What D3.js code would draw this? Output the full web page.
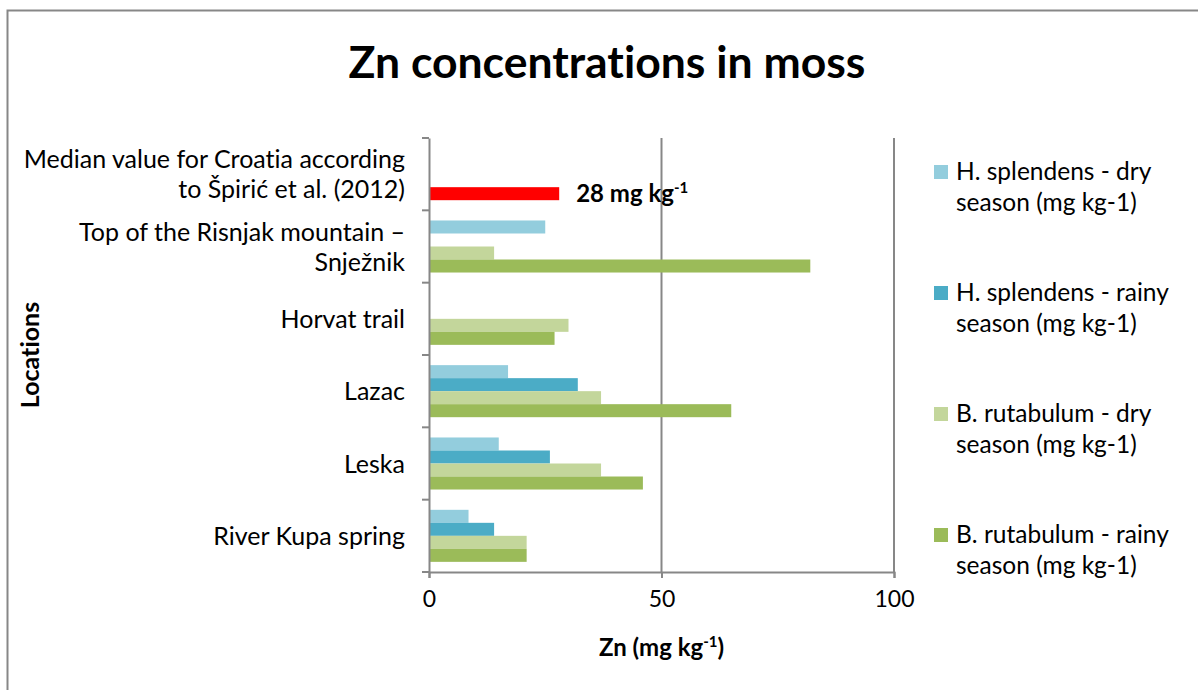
<!DOCTYPE html>
<html>
<head>
<meta charset="utf-8">
<script src="https://cdn.jsdelivr.net/npm/d3@7"></script>
<style>
  body { margin: 0; background: #fff; }
  text { font-family: Lato, "Open Sans", sans-serif; fill: #000; font-variant-ligatures: none; }
</style>
</head>
<body>
<div id="chart"></div>
<script>
// locations, top to bottom
var locations = [
    ["Median value for Croatia according", "to Špirić et al. (2012)"],
    ["Top of the Risnjak mountain –", "Snježnik"],
    ["Horvat trail"],
    ["Lazac"],
    ["Leska"],
    ["River Kupa spring"]
];
var seriesNames = [
    ["H. splendens - dry", "season (mg kg-1)"],
    ["H. splendens - rainy", "season (mg kg-1)"],
    ["B. rutabulum - dry", "season (mg kg-1)"],
    ["B. rutabulum - rainy", "season (mg kg-1)"]
];
var seriesColors = ["#93cddd", "#4bacc6", "#c3d69b", "#9bbb59"];
var hsDry   = [null, 25, null, 17, 15, 8.5];
var hsRainy = [null, null, null, 32, 26, 14];
var brDry   = [null, 14, 30, 37, 37, 21];
var brRainy = [28, 82, 27, 65, 46, 21];   // first one is the Croatia median, shown in red
var xTicks = [0, 50, 100];

var width = 1198, height = 690;
var margin = { top: 138, left: 429, right: 304, bottom: 118 };
var series = [hsDry, hsRainy, brDry, brRainy];

var svg = d3.select("#chart").append("svg")
    .attr("width", width)
    .attr("height", height);

// chart border (only top and left fall inside the picture)
svg.append("rect")
    .attr("x", 7.5).attr("y", 10.5)
    .attr("width", 1300).attr("height", 800)
    .attr("fill", "none")
    .attr("stroke", "#878787")
    .attr("stroke-width", 2);

var x = d3.scaleLinear()
    .domain([0, 100])
    .range([margin.left, width - margin.right]);

var y = d3.scaleBand()
    .domain(d3.range(locations.length))
    .range([margin.top, height - margin.bottom]);

var ySub = d3.scaleBand()
    .domain(d3.range(series.length))
    .range([0, y.bandwidth()])
    .paddingOuter(0.78);

// gridlines
svg.selectAll(".grid")
    .data(xTicks.slice(1))
    .enter().append("line")
    .attr("x1", d => x(d)).attr("x2", d => x(d))
    .attr("y1", margin.top).attr("y2", height - margin.bottom)
    .attr("stroke", "#878787")
    .attr("stroke-width", 2);

// bars
series.forEach(function (vals, s) {
    svg.selectAll(".bar" + s)
        .data(vals.map((v, i) => ({ v: v, i: i })).filter(d => d.v !== null))
        .enter().append("rect")
        .attr("x", x(0))
        .attr("y", d => y(d.i) + ySub(s))
        .attr("width", d => x(d.v) - x(0))
        .attr("height", ySub.bandwidth())
        .attr("fill", d => (s === 3 && d.i === 0) ? "#ff0000" : seriesColors[s]);
});

// median label
var lab = svg.append("text")
    .attr("x", x(brRainy[0]) + 17)
    .attr("y", y(0) + ySub(3) + ySub.bandwidth() / 2 + 8)
    .attr("font-size", 24)
    .attr("font-weight", "bold");
lab.append("tspan").text(brRainy[0] + " mg kg");
lab.append("tspan").attr("font-size", 15).attr("dy", -9).text("-1");

// x axis
var xAxis = svg.append("g")
    .attr("transform", "translate(0," + (height - margin.bottom) + ")")
    .call(d3.axisBottom(x).tickValues(xTicks).tickSize(6).tickPadding(13));
xAxis.selectAll("text").attr("font-size", 23).style("font-family", "Lato, sans-serif");

// y axis
var yAxis = svg.append("g")
    .attr("transform", "translate(" + margin.left + ",0)")
    .call(d3.axisLeft(y).tickValues([]).tickSizeOuter(0));
yAxis.selectAll(".yt")
    .data(d3.range(locations.length + 1))
    .enter().append("line")
    .attr("class", "yt")
    .attr("x1", -7).attr("x2", 0)
    .attr("y1", d => margin.top + d * y.step())
    .attr("y2", d => margin.top + d * y.step());
svg.selectAll(".domain, .tick line, .yt")
    .attr("stroke", "#878787")
    .attr("stroke-width", 2);

// category labels
locations.forEach(function (lines, i) {
    var cy = y(i) + y.bandwidth() / 2;
    lines.forEach(function (line, k) {
        svg.append("text")
            .attr("x", margin.left - 24)
            .attr("y", cy + (k - (lines.length - 1) / 2) * 30 + 9)
            .attr("text-anchor", "end")
            .attr("font-size", 25)
            .text(line);
    });
});

// title
svg.append("text")
    .attr("x", 607).attr("y", 78)
    .attr("text-anchor", "middle")
    .attr("font-size", 44.5)
    .attr("font-weight", "bold")
    .text("Zn concentrations in moss");

// axis titles
var xt = svg.append("text")
    .attr("x", x(50)).attr("y", 656)
    .attr("text-anchor", "middle")
    .attr("font-size", 24)
    .attr("font-weight", "bold");
xt.append("tspan").text("Zn (mg kg");
xt.append("tspan").attr("font-size", 15).attr("dy", -9).text("-1");
xt.append("tspan").attr("dy", 9).text(")");

svg.append("text")
    .attr("transform", "translate(39,355) rotate(-90)")
    .attr("text-anchor", "middle")
    .attr("font-size", 25)
    .attr("font-weight", "bold")
    .text("Locations");

// legend
var legend = svg.selectAll(".legend")
    .data(seriesNames)
    .enter().append("g")
    .attr("transform", (d, i) => "translate(934," + (172 + i * 121) + ")");
legend.append("rect")
    .attr("x", 0).attr("y", -7)
    .attr("width", 14).attr("height", 14)
    .attr("fill", (d, i) => seriesColors[i]);
legend.each(function (d) {
    var g = d3.select(this);
    d.forEach(function (line, k) {
        g.append("text")
            .attr("x", 22)
            .attr("y", 8 + k * 31)
            .attr("font-size", 24.5)
            .text(line);
    });
});
</script>
</body>
</html>
